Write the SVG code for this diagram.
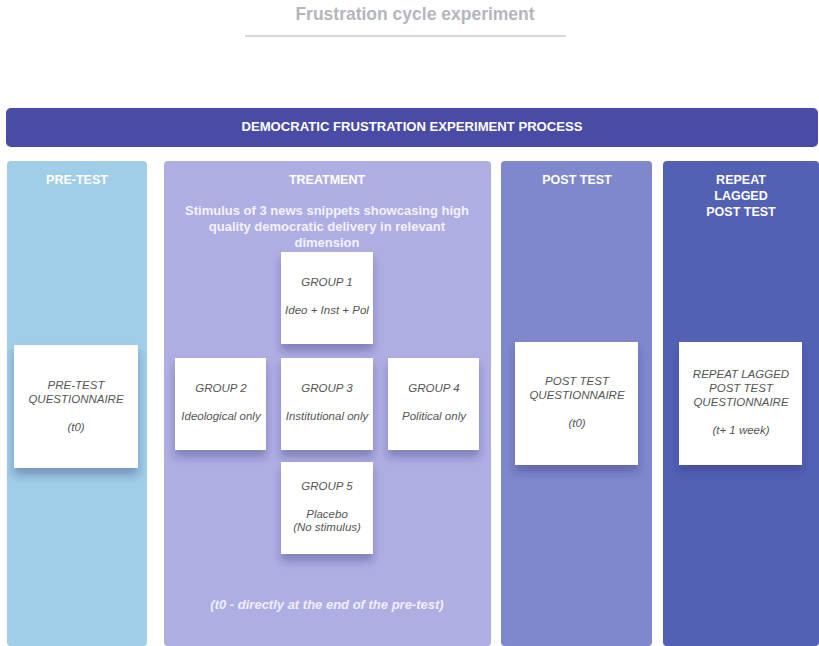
<svg xmlns="http://www.w3.org/2000/svg" width="819" height="646" viewBox="0 0 819 646">
<defs>
<filter id="sh" x="-20%" y="-20%" width="140%" height="150%">
<feDropShadow dx="0" dy="7" stdDeviation="4" flood-color="#2a2a70" flood-opacity="0.35"/>
</filter>
<style>
.col-title{font-family:"Liberation Sans",Arial,sans-serif;font-weight:bold;font-size:12.5px;fill:#ffffff;text-anchor:middle}
.card{fill:#ffffff;filter:url(#sh)}
.ct{font-family:"Liberation Sans",Arial,sans-serif;font-style:italic;font-size:11.5px;fill:#555555;text-anchor:middle}
.stim{font-family:"Liberation Sans",Arial,sans-serif;font-weight:bold;font-size:13px;fill:#f2f2fb;text-anchor:middle}
</style>
</defs>
<rect width="819" height="646" fill="#ffffff"/>
<g id="title">
<text x="415" y="20" font-family="Liberation Sans, Arial, sans-serif" font-weight="bold" font-size="17.5" fill="#b4b6bd" text-anchor="middle">Frustration cycle experiment</text>
<line x1="245" y1="36" x2="566" y2="36" stroke="#c8c9ce" stroke-width="1.5"/>
</g>
<g id="banner">
<rect x="6" y="108" width="812" height="39" rx="5" fill="#4a4ba7"/>
<text x="412" y="131" font-family="Liberation Sans, Arial, sans-serif" font-weight="bold" font-size="13" fill="#ffffff" text-anchor="middle" textLength="341" lengthAdjust="spacingAndGlyphs">DEMOCRATIC FRUSTRATION EXPERIMENT PROCESS</text>
</g>
<g id="col-pretest">
<rect x="7" y="161" width="140" height="485" rx="4" fill="#a0cde8"/>
<text class="col-title" x="77" y="184">PRE-TEST</text>
</g>
<g id="col-treatment">
<rect x="164" y="161" width="327" height="485" rx="4" fill="#aeaee3"/>
<text class="col-title" x="327" y="184">TREATMENT</text>
<text class="stim" x="327" y="215">Stimulus of 3 news snippets showcasing high</text>
<text class="stim" x="327" y="231">quality democratic delivery in relevant</text>
<text class="stim" x="327" y="247">dimension</text>
<text x="327" y="609" font-family="Liberation Sans, Arial, sans-serif" font-weight="bold" font-style="italic" font-size="13" fill="#eeeefa" text-anchor="middle">(t0 - directly at the end of the pre-test)</text>
</g>
<g id="col-posttest">
<rect x="501" y="161" width="151" height="485" rx="4" fill="#7f87cd"/>
<text class="col-title" x="577" y="184">POST TEST</text>
</g>
<g id="col-repeat">
<rect x="663" y="161" width="156" height="485" rx="4" fill="#5361b5"/>
<text class="col-title" x="741" y="184">REPEAT</text>
<text class="col-title" x="741" y="200">LAGGED</text>
<text class="col-title" x="741" y="216">POST TEST</text>
</g>
<g id="pretest-q">
<rect class="card" x="14" y="345" width="124" height="123"/>
<text class="ct" x="76" y="389">PRE-TEST</text>
<text class="ct" x="76" y="403">QUESTIONNAIRE</text>
<text class="ct" x="76" y="431">(t0)</text>
</g>
<g id="group1">
<rect class="card" x="281" y="252" width="92" height="92"/>
<text class="ct" x="327" y="286">GROUP 1</text>
<text class="ct" x="327" y="314">Ideo + Inst + Pol</text>
</g>
<g id="group2">
<rect class="card" x="175" y="358" width="91" height="92"/>
<text class="ct" x="221" y="392">GROUP 2</text>
<text class="ct" x="221" y="420">Ideological only</text>
</g>
<g id="group3">
<rect class="card" x="281" y="358" width="92" height="92"/>
<text class="ct" x="327" y="392">GROUP 3</text>
<text class="ct" x="327" y="420">Institutional only</text>
</g>
<g id="group4">
<rect class="card" x="388" y="358" width="91" height="92"/>
<text class="ct" x="434" y="392">GROUP 4</text>
<text class="ct" x="434" y="420">Political only</text>
</g>
<g id="group5">
<rect class="card" x="281" y="462" width="92" height="92"/>
<text class="ct" x="327" y="490">GROUP 5</text>
<text class="ct" x="327" y="518">Placebo</text>
<text class="ct" x="327" y="531">(No stimulus)</text>
</g>
<g id="posttest-q">
<rect class="card" x="515" y="342" width="123" height="123"/>
<text class="ct" x="577" y="385">POST TEST</text>
<text class="ct" x="577" y="399">QUESTIONNAIRE</text>
<text class="ct" x="577" y="427">(t0)</text>
</g>
<g id="repeat-q">
<rect class="card" x="679" y="342" width="123" height="123"/>
<text class="ct" x="741" y="378">REPEAT LAGGED</text>
<text class="ct" x="741" y="392">POST TEST</text>
<text class="ct" x="741" y="406">QUESTIONNAIRE</text>
<text class="ct" x="741" y="434">(t+ 1 week)</text>
</g>
<g id="connectors"></g>
</svg>
